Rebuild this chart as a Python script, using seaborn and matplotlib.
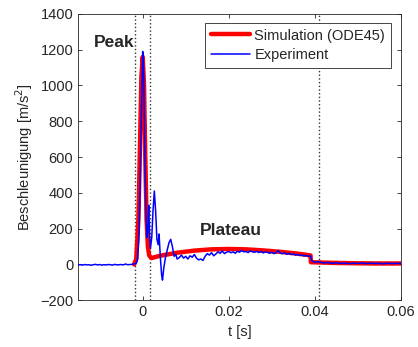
import matplotlib
matplotlib.use("Agg")
import matplotlib.pyplot as plt
import seaborn as sns
import pandas as pd

sns.set_theme(style="ticks")
plt.rcParams['font.family'] = ['Liberation Sans', 'DejaVu Sans']

# --- simulation (ODE45) ---
t_sim = [-0.002, -0.0015, -0.001, -0.0006, -0.0003, 0.0, 0.0003, 0.0006, 0.0009,
         0.0012, 0.0015, 0.002, 0.004, 0.008, 0.012, 0.016, 0.020, 0.024, 0.028,
         0.032, 0.036, 0.039, 0.0391, 0.045, 0.05, 0.055, 0.06]
a_sim = [0, 30, 250, 700, 1050, 1160, 1000, 600, 250,
         100, 50, 35, 48, 65, 77, 84, 86, 84, 78,
         70, 60, 50, 12, 8, 6, 5, 5]

# --- experiment ---
t_pre = [-0.015 + 0.0005 * i for i in range(27)]
a_pre = [-3, -2, -4, -1, -3, -2, -5, -2, 0, -3, -1, -4, -2, -3,
         -1, -2, -4, 0, -3, -2, -1, -3, 2, -2, -1, 0, 3]

t_peak = [-0.0015, -0.0012, -0.0009, -0.0006, -0.0003, 0.0, 0.0002, 0.0004, 0.0006,
          0.0008, 0.001, 0.0012, 0.0014, 0.0016, 0.0018, 0.0021, 0.0024, 0.0027,
          0.003, 0.0033, 0.0036, 0.0038, 0.0041, 0.0044, 0.0046, 0.0049, 0.0053,
          0.0057, 0.0061, 0.0065, 0.0069, 0.0073, 0.0077, 0.008]
a_peak = [5, 30, 150, 450, 850, 1190, 1100, 800, 450,
          250, 150, 200, 330, 160, 90, 150, 300, 410,
          300, 140, 110, 170, 40, -60, -88, -20, 40,
          80, 120, 140, 100, 45, 55, 30]

t_plat = [0.0085 + 0.0005 * i for i in range(62)]
a_plat = [38, 52, 35, 45, 30, 48, 40, 55, 35, 25, 30, 22, 45, 60, 52, 65,
          48, 58, 70, 62, 75, 60, 68, 72, 65, 70, 62, 74, 68, 78, 70, 72,
          66, 75, 70, 68, 73, 66, 72, 64, 70, 67, 62, 68, 60, 65, 78, 62,
          60, 64, 57, 62, 55, 58, 52, 55, 50, 52, 47, 50, 45, 47]

t_post = [0.0393, 0.040, 0.041, 0.042, 0.043, 0.044, 0.045, 0.046, 0.047, 0.048,
          0.049, 0.050, 0.051, 0.052, 0.053, 0.054, 0.055, 0.056, 0.057, 0.058,
          0.059, 0.060]
a_post = [20, 12, 15, 8, 10, 6, 9, 5, 8, 4, 7, 5, 8, 4, 7, 5, 6, 3, 7, 4, 6, 5]

markers_t = [-0.0017, 0.0016, 0.041]

df_sim = pd.DataFrame({'t': t_sim, 'a': a_sim})
df_exp = pd.DataFrame({'t': t_pre + t_peak + t_plat + t_post,
                       'a': a_pre + a_peak + a_plat + a_post})

fig = plt.figure(figsize=(4.18, 3.47), dpi=100)
ax = fig.add_axes([0.187, 0.135, 0.772, 0.825])

for xv in markers_t:
    ax.axvline(xv, color='#333333', linestyle=':', linewidth=1.0, zorder=1)

sns.lineplot(data=df_sim, x='t', y='a', ax=ax, color='#FF0000', linewidth=3.2,
             estimator=None, sort=False, label='Simulation (ODE45)', zorder=2)
sns.lineplot(data=df_exp, x='t', y='a', ax=ax, color='#0000FF', linewidth=1.1,
             estimator=None, sort=False, label='Experiment', zorder=3)

ax.text(-0.0066, 1240, 'Peak', fontsize=12.5, fontweight='bold', ha='center', va='center')
ax.text(0.0204, 190, 'Plateau', fontsize=12.5, fontweight='bold', ha='center', va='center')

ax.set_xlim(-0.015, 0.06)
ax.set_ylim(-200, 1400)
ax.set_xticks([0, 0.02, 0.04, 0.06])
ax.set_xticklabels(['0', '0.02', '0.04', '0.06'])
ax.set_yticks(range(-200, 1401, 200))
ax.set_xlabel('t [s]', fontsize=10.5, color='#262626')
ax.set_ylabel('Beschleunigung [m/s$^2$]', fontsize=10.5, color='#262626')
ax.tick_params(direction='in', top=True, right=True, labelsize=10.5,
               colors='#262626', length=3, width=0.6)
for sp in ax.spines.values():
    sp.set_visible(True)
    sp.set_color('#262626')
    sp.set_linewidth(0.6)

leg = ax.legend(loc='upper right', bbox_to_anchor=(0.969, 0.969), fontsize=10.5,
                frameon=True, fancybox=False, framealpha=1, edgecolor='#262626',
                handlelength=2.7, borderpad=0.4, labelspacing=0.35, handletextpad=0.3,
                borderaxespad=0)
leg.get_frame().set_linewidth(0.6)

fig.savefig('out.png', dpi=100)
